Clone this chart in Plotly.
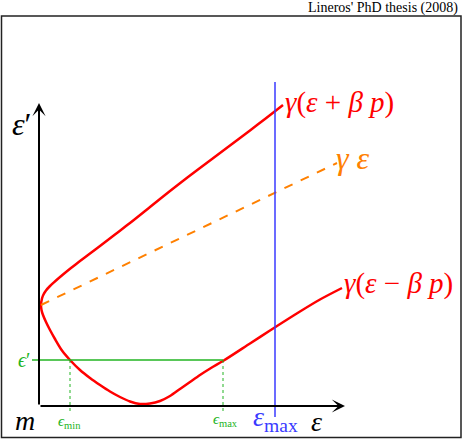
#%%

import plotly.graph_objs as go

#%%

#values (eps on x, eps' on y, origin at m)
#upper branch gamma(eps + beta p), from its end back to the turning point
eps_upper = [2.44, 2.26, 2.11, 1.91, 1.71, 1.51, 1.31, 1.11, 0.91, 0.76, 0.61, 0.51,
             0.41, 0.32, 0.24, 0.17, 0.11, 0.07, 0.045, 0.03, 0.02]
epsp_upper = [3.01, 2.87, 2.755, 2.605, 2.455, 2.305, 2.15, 1.99, 1.83, 1.715, 1.60, 1.525,
              1.45, 1.38, 1.315, 1.255, 1.20, 1.155, 1.115, 1.075, 1.01]

#lower branch gamma(eps - beta p), from the turning point on
eps_lower = [0.025, 0.04, 0.07, 0.11, 0.16, 0.23, 0.31, 0.41, 0.51, 0.61, 0.71, 0.81,
             0.91, 1.01, 1.11, 1.21, 1.31, 1.41, 1.51, 1.61, 1.72, 1.84, 2.11, 2.31,
             2.61, 2.81, 3.03]
epsp_lower = [0.96, 0.91, 0.84, 0.76, 0.67, 0.555, 0.46, 0.36, 0.28, 0.21, 0.145, 0.09,
              0.045, 0.02, 0.025, 0.05, 0.10, 0.17, 0.24, 0.31, 0.38, 0.45, 0.625, 0.755,
              0.945, 1.065, 1.18]

#gamma*eps line
eps_gamma = [0.02, 2.98]
epsp_gamma = [1.01, 2.43]

#levels
eps_max_big = 2.36
eps_prime_level = 0.46
eps_min_small = 0.31
eps_max_small = 1.84

#axes extent
x_tip = 3.06
y_tip = 3.03

#%%

serif = "Liberation Serif"
red = "#ff0000"
orange = "#ff8000"
blue = "#3a3aff"
green = "#22b422"

fig = go.Figure()

#red curve, upper and lower branch in one stroke
fig.add_trace(go.Scatter(
    x=eps_upper + eps_lower, y=epsp_upper + epsp_lower,
    mode="lines", line=dict(color=red, width=2.5, shape="spline", smoothing=0.8),
    hoverinfo="skip"))

#gamma eps dashed
fig.add_trace(go.Scatter(
    x=eps_gamma, y=epsp_gamma, mode="lines",
    line=dict(color=orange, width=2, dash="dash"), hoverinfo="skip"))

#vertical eps max line
fig.add_trace(go.Scatter(
    x=[eps_max_big, eps_max_big], y=[-0.11, 3.24], mode="lines",
    line=dict(color=blue, width=1.5), hoverinfo="skip"))

#green eps' level
fig.add_trace(go.Scatter(
    x=[-0.07, eps_max_small], y=[eps_prime_level, eps_prime_level], mode="lines",
    line=dict(color=green, width=1.5), hoverinfo="skip"))

for xv in [eps_min_small, eps_max_small]:
    fig.add_trace(go.Scatter(
        x=[xv, xv], y=[eps_prime_level, -0.07], mode="lines",
        line=dict(color=green, width=1, dash="dot"), hoverinfo="skip"))

#%%

#axes with arrows
for hx, hy in [(0, y_tip), (x_tip, 0)]:
    fig.add_annotation(x=hx, y=hy, ax=0, ay=0, xref="x", yref="y", axref="x", ayref="y",
                       text="", showarrow=True, arrowhead=3, arrowsize=1.1,
                       arrowwidth=2, arrowcolor="black", standoff=0, startstandoff=0)

def label(x, y, text, size, color="black", xanchor="center"):
    fig.add_annotation(x=x, y=y, text=text, showarrow=False, xanchor=xanchor,
                       yanchor="middle", font=dict(family=serif, size=size, color=color))

label(-0.17, 2.82, "<i>ε</i>′", 32)
label(-0.14, -0.14, "<i>m</i>", 28)
label(2.77, -0.15, "<i>ε</i>", 28)
label(2.36, -0.12, "<i>ε</i><sub>max</sub>", 28, blue)
label(-0.15, 0.46, "<i>ϵ</i>′", 20, green)
label(0.30, -0.16, "<i>ϵ</i><sub>min</sub>", 15, green)
label(1.86, -0.14, "<i>ϵ</i><sub>max</sub>", 15, green)
label(2.44, 3.04, "<i>γ</i>(<i>ε</i> + <i>β p</i>)", 29, red, "left")
label(2.95, 2.48, "<i>γ ε</i>", 32, orange, "left")
label(3.03, 1.23, "<i>γ</i>(<i>ε</i> − <i>β p</i>)", 29, red, "left")

#title outside the frame
fig.add_annotation(x=460/463, y=1 - 8/440, xref="paper", yref="paper", text="Lineros' PhD thesis (2008)",
                   showarrow=False, xanchor="right", yanchor="middle",
                   font=dict(family=serif, size=14, color="black"))

#frame
fig.add_shape(type="rect", xref="paper", yref="paper",
              x0=1.5/463, x1=461/463, y0=1 - 437.5/440, y1=1 - 16/440,
              line=dict(color="#222222", width=1.5))

fig.update_layout(
    width=463, height=440, margin=dict(l=0, r=0, t=0, b=0),
    paper_bgcolor="white", plot_bgcolor="white", showlegend=False,
    xaxis=dict(range=[-0.39, 4.24], visible=False, fixedrange=True),
    yaxis=dict(range=[-0.34, 4.06], visible=False, fixedrange=True),
)

#no page margin so the figure fills the window
fig.write_html("out.html", config={"displayModeBar": False},
               post_script="document.body.style.margin='0';document.body.style.overflow='hidden';")
